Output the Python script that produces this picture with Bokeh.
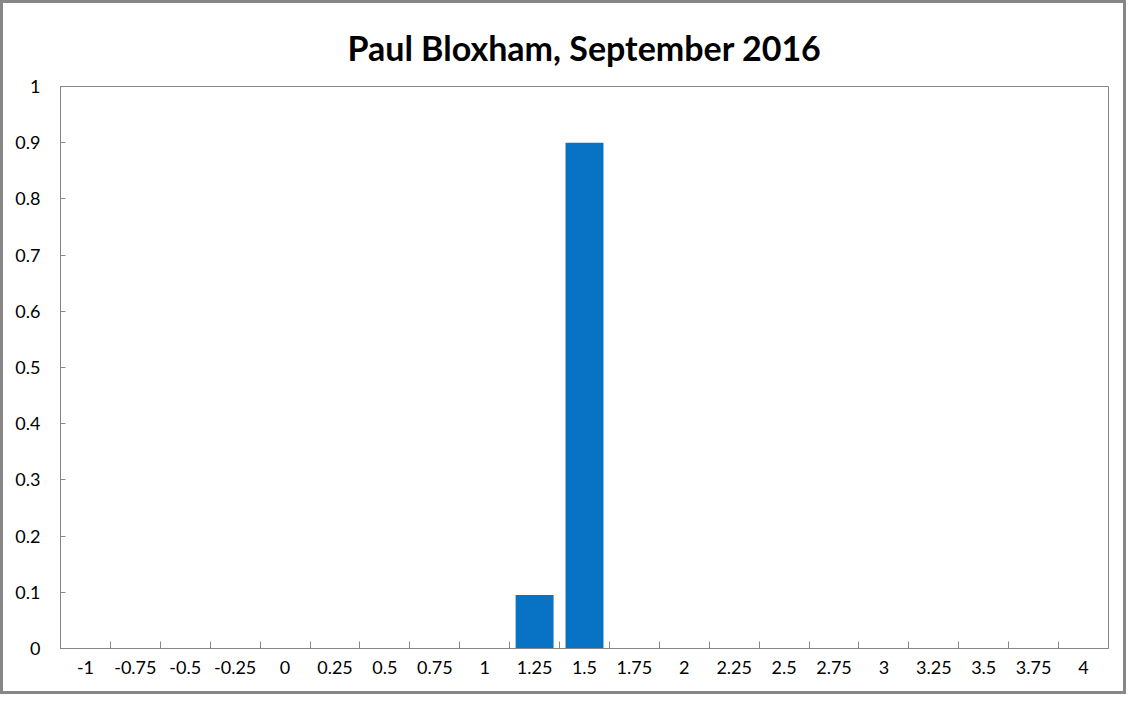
from bokeh.plotting import figure
from bokeh.models import ColumnDataSource, Range1d, FixedTicker, CustomJSTickFormatter
from bokeh.embed import file_html
from bokeh.resources import INLINE

# data
categories = ["-1", "-0.75", "-0.5", "-0.25", "0", "0.25", "0.5", "0.75", "1", "1.25",
              "1.5", "1.75", "2", "2.25", "2.5", "2.75", "3", "3.25", "3.5", "3.75", "4"]
probability = [0, 0, 0, 0, 0, 0, 0, 0, 0, 0.095,
               0.9, 0, 0, 0, 0, 0, 0, 0, 0, 0, 0]
y_ticks = [0, 0.1, 0.2, 0.3, 0.4, 0.5, 0.6, 0.7, 0.8, 0.9, 1]

xs = list(range(len(categories)))
source = ColumnDataSource(data={'x': xs, 'prob': probability, 'cat': categories})

FONT = "Lato"
GREY = "#878787"

p = figure(
    width=1126, height=694,
    x_range=Range1d(-0.5, len(categories) - 0.5),
    y_range=Range1d(0, 1),
    output_backend="svg",
    toolbar_location=None,
    min_border_left=57, min_border_right=21,
    min_border_top=83, min_border_bottom=49,
    outline_line_color=GREY,
    border_fill_color="white",
)

p.title.text = "Paul Bloxham, September 2016"
p.title.align = "center"
p.title.text_font = FONT
p.title.text_font_size = "34px"
p.title.text_font_style = "bold"
p.title.text_color = "black"
p.title.standoff = 37

p.vbar(x='x', top='prob', width=0.76, source=source,
       fill_color="#0872C4", line_color=None)

p.xgrid.visible = False
p.ygrid.visible = False

# x axis: labels at category centres, tick marks between categories
xa = p.xaxis[0]
xa.ticker = FixedTicker(ticks=xs, minor_ticks=[i - 0.5 for i in range(1, len(categories))])
xa.major_label_overrides = {i: c for i, c in zip(xs, categories)}
xa.major_tick_in = 0
xa.major_tick_out = 0
xa.minor_tick_in = 7
xa.minor_tick_out = 0
xa.minor_tick_line_color = GREY
xa.axis_line_color = GREY
xa.major_label_standoff = 12
xa.major_label_text_font = FONT
xa.major_label_text_font_size = "18px"
xa.major_label_text_color = "black"

ya = p.yaxis[0]
ya.ticker = FixedTicker(ticks=y_ticks)
ya.formatter = CustomJSTickFormatter(code="return tick.toFixed(1).replace(/\\.0$/, '');")
ya.major_tick_in = 5
ya.major_tick_out = 0
ya.minor_tick_line_color = None
ya.major_tick_line_color = GREY
ya.axis_line_color = GREY
ya.major_label_standoff = 20
ya.major_label_text_font = FONT
ya.major_label_text_font_size = "18px"
ya.major_label_text_color = "black"

# outer chart frame
p.background_fill_color = "white"
p.styles = {"border": "3px solid #878787", "box-sizing": "border-box"}

open("out.html", "w").write(file_html(p, INLINE))
